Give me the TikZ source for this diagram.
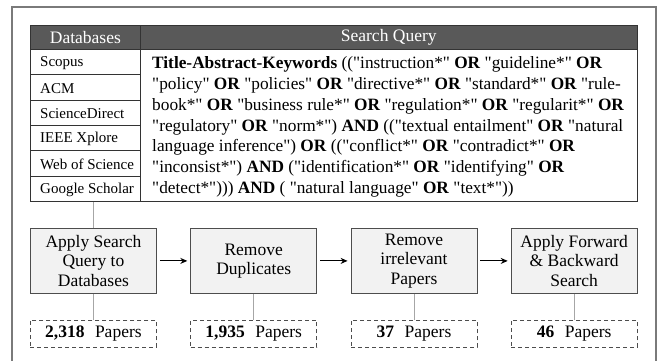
\documentclass[tikz,border=0pt]{standalone}
\usepackage{fontspec}
\setmainfont{Liberation Serif}[Ligatures=TeXOff]
\usetikzlibrary{arrows.meta}
\definecolor{hdrfill}{HTML}{595959}
\definecolor{framec}{HTML}{7A7A7A}
\definecolor{boxfill}{HTML}{F2F2F2}
\definecolor{boxline}{HTML}{4D4D4D}
\definecolor{connc}{HTML}{A6A6A6}
\definecolor{tabline}{HTML}{333333}
\begin{document}
\begin{tikzpicture}[x=1pt,y=-1pt,
  hdrcell/.style={draw=tabline, fill=hdrfill, text=white, line width=0.8pt,
    minimum height=24pt, inner sep=0pt, anchor=north west,
    font=\fontsize{17.5}{20}\selectfont},
  dbcell/.style={draw=tabline, line width=0.8pt, minimum height=25.33pt,
    minimum width=110pt, inner sep=0pt, anchor=north west},
  dbtext/.style={anchor=west, inner sep=0pt, font=\fontsize{15}{18}\selectfont},
  stepbox/.style={draw=boxline, fill=boxfill, line width=0.8pt, minimum width=126pt,
    minimum height=65pt, inner sep=0pt, align=center, anchor=north west,
    font=\fontsize{17.5}{19.5}\selectfont},
  cntbox/.style={draw=boxline, line width=0.8pt, dash pattern=on 4pt off 3pt,
    minimum width=126pt, minimum height=27pt, inner sep=0pt, anchor=north west,
    font=\fontsize{17.5}{20}\selectfont},
  conn/.style={draw=connc, line width=0.9pt},
  arr/.style={draw=black, line width=1.1pt, -{Stealth[length=7pt,width=6pt]}}
]
\useasboundingbox (0,0) rectangle (658,360);
% outer frame (open at the bottom)
\draw[framec, line width=1.8pt] (11.7,364) -- (11.7,6.7) -- (656,6.7) -- (656,364);

% table header
\node[hdrcell, minimum width=110pt] (hdb) at (30,25) {Databases};
\node[hdrcell, minimum width=496.7pt] (hsq) at (140,25) {Search Query};

% database rows
\node[dbcell] (db1) at (30,49) {};
\node[dbcell] (db2) at (30,74.33) {};
\node[dbcell] (db3) at (30,99.67) {};
\node[dbcell] (db4) at (30,125) {};
\node[dbcell] (db5) at (30,150.33) {};
\node[dbcell] (db6) at (30,175.67) {};
\node[dbtext] (t1) at ([xshift=10pt,yshift=-1pt]db1.west) {Scopus};
\node[dbtext] (t2) at ([xshift=10pt,yshift=-1pt]db2.west) {ACM};
\node[dbtext] (t3) at ([xshift=10pt,yshift=-1pt]db3.west) {ScienceDirect};
\node[dbtext] (t4) at ([xshift=10pt,yshift=-1pt]db4.west) {IEEE Xplore};
\node[dbtext] (t5) at ([xshift=10pt,yshift=-1pt]db5.west) {Web of Science};
\node[dbtext] (t6) at ([xshift=10pt,yshift=-1pt]db6.west) {Google Scholar};

% query cell
\node[draw=tabline, line width=0.8pt, anchor=north west, minimum width=496.7pt,
  minimum height=152pt, inner sep=0pt] (qcell) at (140,49) {};
\node[anchor=west, align=left, inner sep=0pt, font=\fontsize{17.3}{20.7}\selectfont]
  (qtext) at ([xshift=12pt,yshift=-1.5pt]qcell.west) {%
\textbf{Title-Abstract-Keywords} (("instruction*" \textbf{OR} "guideline*" \textbf{OR}\\
"policy" \textbf{OR} "policies" \textbf{OR} "directive*" \textbf{OR} "standard*" \textbf{OR} "rule-\\
book*" \textbf{OR} "business rule*" \textbf{OR} "regulation*" \textbf{OR} "regularit*" \textbf{OR}\\
"regulatory" \textbf{OR} "norm*") \textbf{AND} (("textual entailment" \textbf{OR} "natural\\
language inference") \textbf{OR} (("conflict*" \textbf{OR} "contradict*" \textbf{OR}\\
"inconsist*") \textbf{AND} ("identification*" \textbf{OR} "identifying" \textbf{OR}\\
"detect*"))) \textbf{AND} ( "natural language" \textbf{OR} "text*"))};

% process boxes
\node[stepbox] (b1) at (30,228) {Apply Search\\Query to\\Databases};
\node[stepbox] (b2) at (190.3,228) {Remove\\Duplicates};
\node[stepbox] (b3) at (350.6,228) {Remove\\irrelevant\\Papers};
\node[stepbox] (b4) at (510.7,228) {Apply Forward\\\& Backward\\Search};

% count boxes
\node[cntbox] (c1) at (30,320) {\textbf{2,318}\hspace{0.6em}Papers};
\node[cntbox] (c2) at (190.3,320) {\textbf{1,935}\hspace{0.6em}Papers};
\node[cntbox] (c3) at (350.6,320) {\textbf{37}\hspace{0.6em}Papers};
\node[cntbox] (c4) at (510.7,320) {\textbf{46}\hspace{0.6em}Papers};

% connectors
\draw[conn] (b1.north |- db6.south) -- (b1.north);
\draw[conn] (b1.south) -- (c1.north);
\draw[conn] (b2.south) -- (c2.north);
\draw[conn] (b3.south) -- (c3.north);
\draw[conn] (b4.south) -- (c4.north);

% arrows
\draw[arr] ([xshift=3pt]b1.east) -- ([xshift=-3pt]b2.west);
\draw[arr] ([xshift=3pt]b2.east) -- ([xshift=-3pt]b3.west);
\draw[arr] ([xshift=3pt]b3.east) -- ([xshift=-3pt]b4.west);
\end{tikzpicture}
\end{document}
